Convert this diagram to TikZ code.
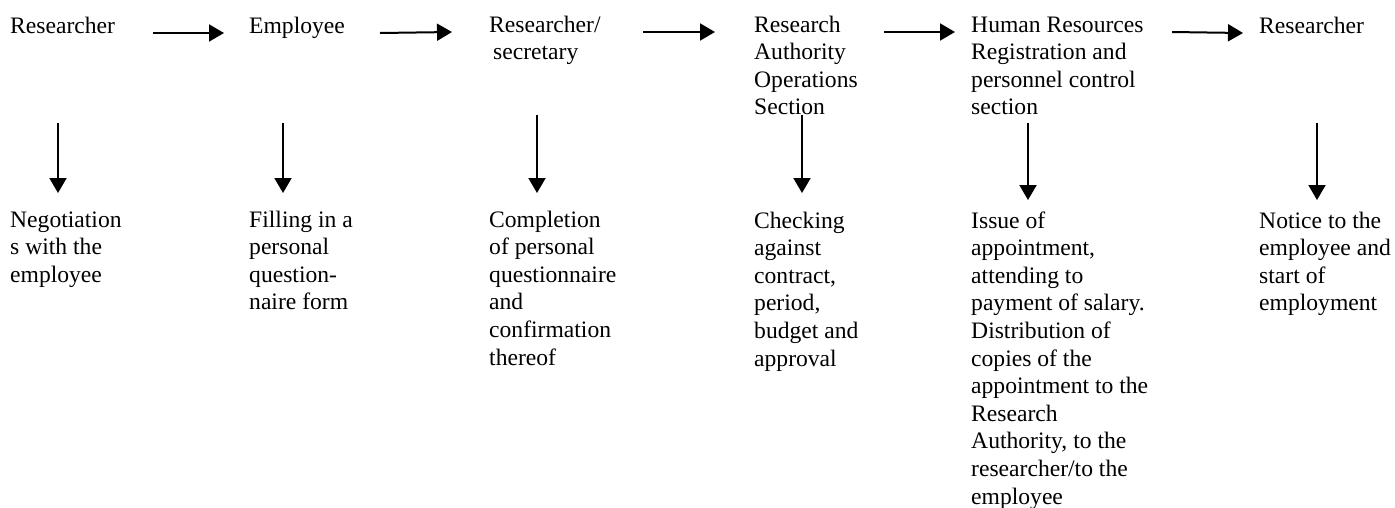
\documentclass[tikz,border=0pt]{standalone}
\usepackage{fontspec}
\setmainfont{Liberation Serif}
\usetikzlibrary{arrows.meta}
\newcommand{\textlines}[1]{\begin{tabular}[t]{@{}l@{}}#1\end{tabular}}
\tikzset{actor/.style={inner sep=0pt,anchor=base west,font=\fontsize{23.6pt}{27.6pt}\selectfont}}
\tikzset{task/.style={actor}}
\tikzset{flow/.style={draw,line width=2pt,-{Triangle[length=15pt,width=17pt]}}}

\begin{document}
\begin{tikzpicture}[x=1pt,y=1pt]
                \useasboundingbox (0,0) rectangle (1395,-507);
                % who does it
                \node[actor] (res1) at (10,-33) {\textlines{Researcher}};
                \node[actor] (emp) at (249,-33) {\textlines{Employee}};
                \node[actor] (sec) at (489,-32) {\textlines{Researcher/\\\hspace{4pt}secretary}};
                \node[actor] (auth) at (754,-32) {\textlines{Research\\Authority\\Operations\\Section}};
                \node[actor] (hr) at (971,-32) {\textlines{Human Resources\\Registration and\\personnel control\\section}};
                \node[actor] (res2) at (1259,-33) {\textlines{Researcher}};
                % what is done
                \node[task] (negot) at (10,-227) {\textlines{Negotiation\\s with the\\employee}};
                \node[task] (fill) at (249,-227) {\textlines{Filling in a\\personal\\question-\\naire form}};
                \node[task] (compl) at (489,-227) {\textlines{Completion\\of personal\\questionnaire\\and\\confirmation\\thereof}};
                \node[task] (check) at (754,-228) {\textlines{Checking\\against\\contract,\\period,\\budget and\\approval}};
                \node[task] (issue) at (971,-228) {\textlines{Issue of\\appointment,\\attending to\\payment of salary.\\Distribution of\\copies of the\\appointment to the\\Research\\Authority, to the\\researcher/to the\\employee}};
                \node[task] (notice) at (1259,-228) {\textlines{Notice to the\\employee and\\start of\\employment}};
                % along the row
                    \path[flow] ([xshift=143pt]res1.base west) -- ([xshift=-25pt]emp.base west);
                    \path[flow] ([xshift=131pt]emp.base west) -- ([xshift=-37pt]sec.base west);
                    \path[flow] ([xshift=154pt]sec.base west) -- ([xshift=-39pt]auth.base west);
                    \path[flow] ([xshift=130pt]auth.base west) -- ([xshift=-16pt]hr.base west);
                    \path[flow] ([xshift=201pt]hr.base west) -- ([xshift=-16pt]res2.base west);
                % down to the tasks
                    \path[flow] ([shift={(48,-90)}]res1.base west) -- ([shift={(48,34)}]negot.base west);
                    \path[flow] ([shift={(34,-90)}]emp.base west) -- ([shift={(34,34)}]fill.base west);
                    \path[flow] ([shift={(48,-83)}]sec.base west) -- ([shift={(48,34)}]compl.base west);
                    \path[flow] ([shift={(48,-83)}]auth.base west) -- ([shift={(48,35)}]check.base west);
                    \path[flow] ([shift={(57,-91)}]hr.base west) -- ([shift={(57,28)}]issue.base west);
                    \path[flow] ([shift={(58,-90)}]res2.base west) -- ([shift={(58,28)}]notice.base west);
            \end{tikzpicture}
\end{document}
